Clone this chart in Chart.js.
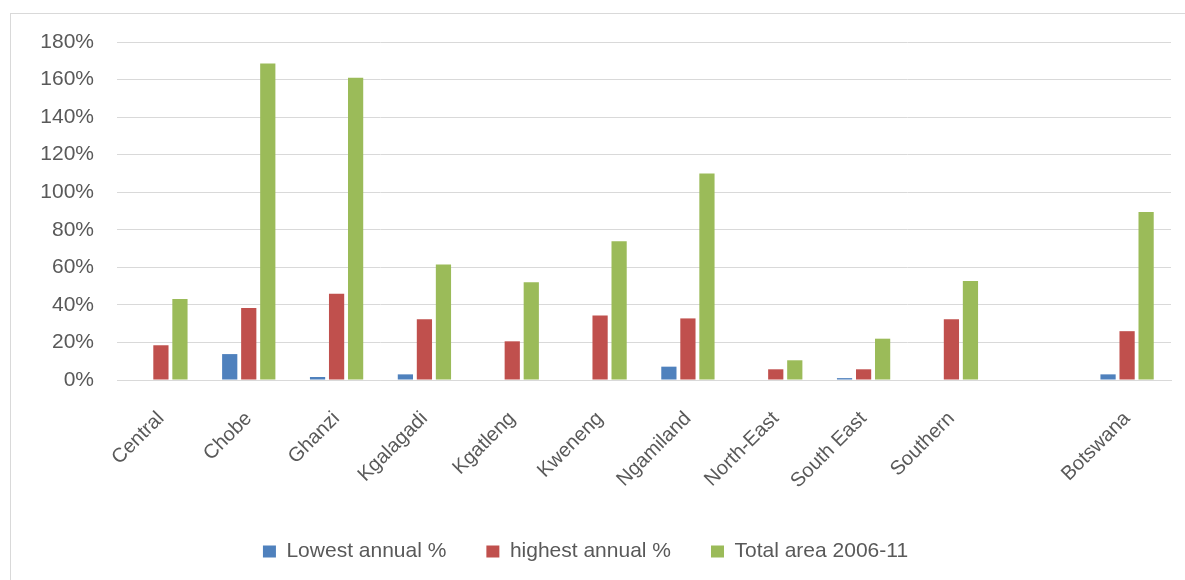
<!DOCTYPE html>
<html>
<head>
<meta charset="utf-8">
<script src="https://cdn.jsdelivr.net/npm/chart.js@4"></script>
<style>
html,body{margin:0;padding:0;background:#fff;}
#wrap{position:absolute;left:0;top:0;width:1185px;height:580px;}
#frame{position:absolute;left:10px;top:13px;width:1180px;height:570px;border:1px solid #d9d9d9;box-sizing:border-box;}
canvas{position:absolute;left:0;top:0;}
</style>
</head>
<body>
<div id="wrap">
<div id="frame"></div>
<canvas id="c" width="1185" height="580"></canvas>
</div>
<script>
const categories = ["Central","Chobe","Ghanzi","Kgalagadi","Kgatleng","Kweneng","Ngamiland","North-East","South East","Southern","","Botswana"];
const lowestAnnual  = [0, 13.8, 1.6, 3.0, 0, 0, 7.1, 0, 1.0, 0, null, 3.0];
const highestAnnual = [18.5, 38.3, 45.9, 32.3, 20.6, 34.4, 32.8, 5.7, 5.7, 32.3, null, 26.0];
const totalArea     = [43.1, 168.6, 161.0, 61.5, 52.0, 73.9, 110.0, 10.5, 22.0, 52.7, null, 89.5];
const seriesNames = ["Lowest annual %","highest annual %","Total area 2006-11"];
const yTicks = [0,20,40,60,80,100,120,140,160,180];

const textColor = '#595959';
const gridColor = '#d9d9d9';
const font = "'Liberation Sans', Arial, sans-serif";

new Chart(document.getElementById('c'), {
  type: 'bar',
  data: {
    labels: categories,
    datasets: [
      {label: seriesNames[0], data: lowestAnnual, backgroundColor: '#4f81bd'},
      {label: seriesNames[1], data: highestAnnual, backgroundColor: '#c0504d'},
      {label: seriesNames[2], data: totalArea, backgroundColor: '#9bbb59'}
    ]
  },
  options: {
    responsive: false,
    animation: false,
    devicePixelRatio: 1,
    datasets: {bar: {categoryPercentage: 0.65, barPercentage: 0.8}},
    layout: {padding: {top: 42, right: 14, left: 0, bottom: 8}},
    plugins: {
      tooltip: {enabled: false},
      legend: {
        position: 'bottom',
        labels: {
          font: {family: font, size: 21},
          color: textColor,
          boxWidth: 13, boxHeight: 12,
          padding: 40
        }
      }
    },
    scales: {
      x: {
        grid: {display: false, drawTicks: false},
        border: {display: true, color: gridColor},
        ticks: {
          color: textColor,
          font: {family: font, size: 20},
          minRotation: 45, maxRotation: 45,
          padding: 27,
          autoSkip: false
        },
        afterFit: s => { s.height = 121; }
      },
      y: {
        min: 0, max: 180,
        afterBuildTicks: s => { s.ticks = yTicks.map(v => ({value: v})); },
        grid: {color: gridColor, drawTicks: false},
        border: {display: false},
        ticks: {
          color: textColor,
          font: {family: font, size: 21},
          padding: 23,
          callback: v => v + '%'
        },
        afterFit: s => { s.width = 117; }
      }
    }
  }
});
</script>
</body>
</html>
